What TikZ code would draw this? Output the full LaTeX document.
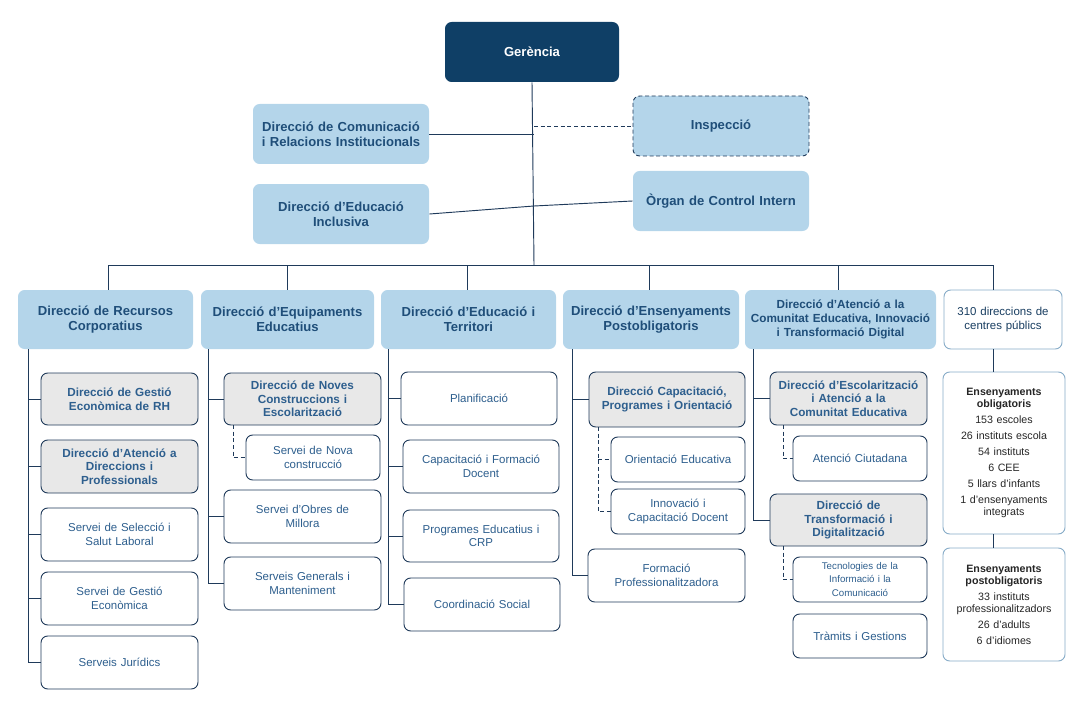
\documentclass[tikz,border=0pt]{standalone}
\usepackage{fontspec}
\setmainfont{Liberation Sans}
\begin{document}
\definecolor{navy}{HTML}{0F3F66}
\definecolor{lb}{HTML}{B4D5EA}
\definecolor{tx}{HTML}{1F4E79}
\definecolor{tx2}{HTML}{2E5F8E}
\definecolor{gr}{HTML}{E8E8E8}
\definecolor{ln}{HTML}{1F3A5A}
\begin{tikzpicture}[x=0.75pt,y=-0.75pt,
 bx/.style={rounded corners=5pt,align=center,inner sep=0pt,line width=0.7pt},
 top/.style={bx,fill=lb,draw=none,text=tx,font=\bfseries\fontsize{9.8}{11.5}\selectfont},
 gbox/.style={bx,fill=gr,draw=ln,text=tx2,font=\bfseries\fontsize{8.8}{10.2}\selectfont},
 wbox/.style={bx,fill=white,draw=ln,text=tx2,font=\fontsize{8.6}{10.2}\selectfont},
 cbox/.style={bx,fill=white,draw=lb!70!tx,text=black!85,font=\fontsize{8}{12}\selectfont},
 con/.style={draw=ln,line width=0.7pt},
 dcon/.style={con,dash pattern=on 3pt off 2pt}]
\useasboundingbox (0,0) rectangle (1088,713);
\newcommand{\bx}[7]{\node[#6,minimum width={(#4-#2)*0.75pt},minimum height={(#5-#3)*0.75pt},text width={(#4-#2-8)*0.75pt}] (#1) at ({(#2+#4)/2},{(#3+#5)/2}) {#7};}
\bx{ger}{445}{22}{619}{82}{top,fill=navy,text=white}{Gerència}
\bx{com}{253}{104}{429}{164}{top}{Direcció de Comunicació\\i Relacions Institucionals}
\bx{ins}{633}{96}{809}{156}{top,draw=ln,dash pattern=on 3pt off 2pt}{Inspecció}
\bx{inc}{253}{184}{429}{244}{top}{Direcció d’Educació\\Inclusiva}
\bx{org}{633}{171}{809}{231}{top}{Òrgan de Control Intern}
\bx{c1}{18}{290}{193}{349}{top}{Direcció de Recursos\\Corporatius}
\bx{c2}{201}{290}{374}{349}{top}{Direcció d’Equipaments\\Educatius}
\bx{c3}{381}{290}{556}{349}{top}{Direcció d’Educació i\\Territori}
\bx{c4}{563}{290}{739}{349}{top}{Direcció d’Ensenyaments\\Postobligatoris}
\bx{c5}{745}{290}{936}{349}{top,font=\bfseries\fontsize{8.8}{10.5}\selectfont}{Direcció d’Atenció a la\\Comunitat Educativa, Innovació\\i Transformació Digital}
\bx{c6}{944}{290}{1062}{349}{cbox,draw=lb!70!tx,text=tx!80!black,font=\fontsize{8.6}{11}\selectfont}{310 direccions de\\centres públics}
% col1
\bx{a1}{41}{373}{198}{425}{gbox}{Direcció de Gestió\\Econòmica de RH}
\bx{a2}{41}{440}{198}{493}{gbox}{Direcció d’Atenció a\\Direccions i\\Professionals}
\bx{a3}{41}{508}{198}{561}{wbox}{Servei de Selecció i\\Salut Laboral}
\bx{a4}{41}{572}{198}{625}{wbox}{Servei de Gestió\\Econòmica}
\bx{a5}{41}{636}{198}{689}{wbox}{Serveis Jurídics}
% col2
\bx{b1}{224}{373}{381}{425}{gbox}{Direcció de Noves\\Construccions i\\Escolarització}
\bx{b2}{246}{435}{380}{480}{wbox}{Servei de Nova\\construcció}
\bx{b3}{224}{490}{381}{543}{wbox}{Servei d’Obres de\\Millora}
\bx{b4}{224}{557}{381}{610}{wbox}{Serveis Generals i\\Manteniment}
% col3
\bx{d1}{401}{372}{557}{425}{wbox}{Planificació}
\bx{d2}{403}{440}{559}{493}{wbox}{Capacitació i Formació\\Docent}
\bx{d3}{403}{510}{559}{562}{wbox}{Programes Educatius i\\CRP}
\bx{d4}{404}{578}{560}{631}{wbox}{Coordinació Social}
% col4
\bx{e1}{589}{372}{745}{427}{gbox}{Direcció Capacitació,\\Programes i Orientació}
\bx{e2}{611}{437}{745}{482}{wbox}{Orientació Educativa}
\bx{e3}{611}{489}{745}{534}{wbox}{Innovació i\\Capacitació Docent}
\bx{e4}{588}{549}{745}{602}{wbox}{Formació\\Professionalitzadora}
% col5
\bx{f1}{770}{372}{927}{425}{gbox}{Direcció d’Escolarització\\i Atenció a la\\Comunitat Educativa}
\bx{f2}{793}{436}{927}{481}{wbox}{Atenció Ciutadana}
\bx{f3}{770}{494}{927}{546}{gbox}{Direcció de\\Transformació i\\Digitalització}
\bx{f4}{793}{557}{927}{602}{wbox,font=\fontsize{7.3}{10.2}\selectfont}{Tecnologies de la\\Informació i la\\Comunicació}
\bx{f5}{793}{614}{927}{658}{wbox}{Tràmits i Gestions}
% col6
\bx{g1}{943}{372}{1065}{534}{cbox}{{\bfseries Ensenyaments\\[-3pt]obligatoris}\\153 escoles\\26 instituts escola\\54 instituts\\6 CEE\\5 llars d’infants\\1 d’ensenyaments\\[-3pt]integrats}
\bx{g2}{943}{548}{1065}{661}{cbox}{{\bfseries Ensenyaments\\[-3pt]postobligatoris}\\33 instituts\\[-3pt]professionalitzadors\\26 d’adults\\6 d’idiomes}
% connectors
\coordinate (h) at (534,265);
\draw[con] (ger.south) -- (h);
\draw[con] (com.east) -- (534,134);
\draw[dcon] (534,126) -- (ins.west);
\draw[con] (inc.east) -- (534,206);
\draw[con] (534,206) -- (org.west);
\draw[con] (108,265) -- (993,265);
\foreach \n/\x in {c1/108,c2/287,c3/467,c4/649,c5/838,c6/993} \draw[con] (\x,265) -- (\n.north -| \x,0);
\draw[con] (28,349) |- (a5.west);
\foreach \n in {a1,a2,a3,a4} \draw[con] (28,0 |- \n.west) -- (\n.west);
\draw[con] (208,349) |- (b4.west);
\foreach \n in {b1,b3} \draw[con] (208,0 |- \n.west) -- (\n.west);
\draw[dcon] (233,425) |- (b2.west);
\draw[con] (388,349) |- (d4.west);
\foreach \n in {d1,d2,d3} \draw[con] (388,0 |- \n.west) -- (\n.west);
\draw[con] (572,349) |- (e4.west);
\draw[con] (572,0 |- e1.west) -- (e1.west);
\draw[dcon] (598,427) |- (e3.west);
\draw[dcon] (598,0 |- e2.west) -- (e2.west);
\draw[con] (753,349) |- (f3.west);
\draw[con] (753,0 |- f1.west) -- (f1.west);
\draw[dcon] (783,425) |- (f2.west);
\draw[dcon] (783,546) |- (f4.west);
\draw[con] (c6.south -| 993,0) -- (g1.north -| 993,0);
\draw[con] (g1.south -| 993,0) -- (g2.north -| 993,0);
\end{tikzpicture}
\end{document}
